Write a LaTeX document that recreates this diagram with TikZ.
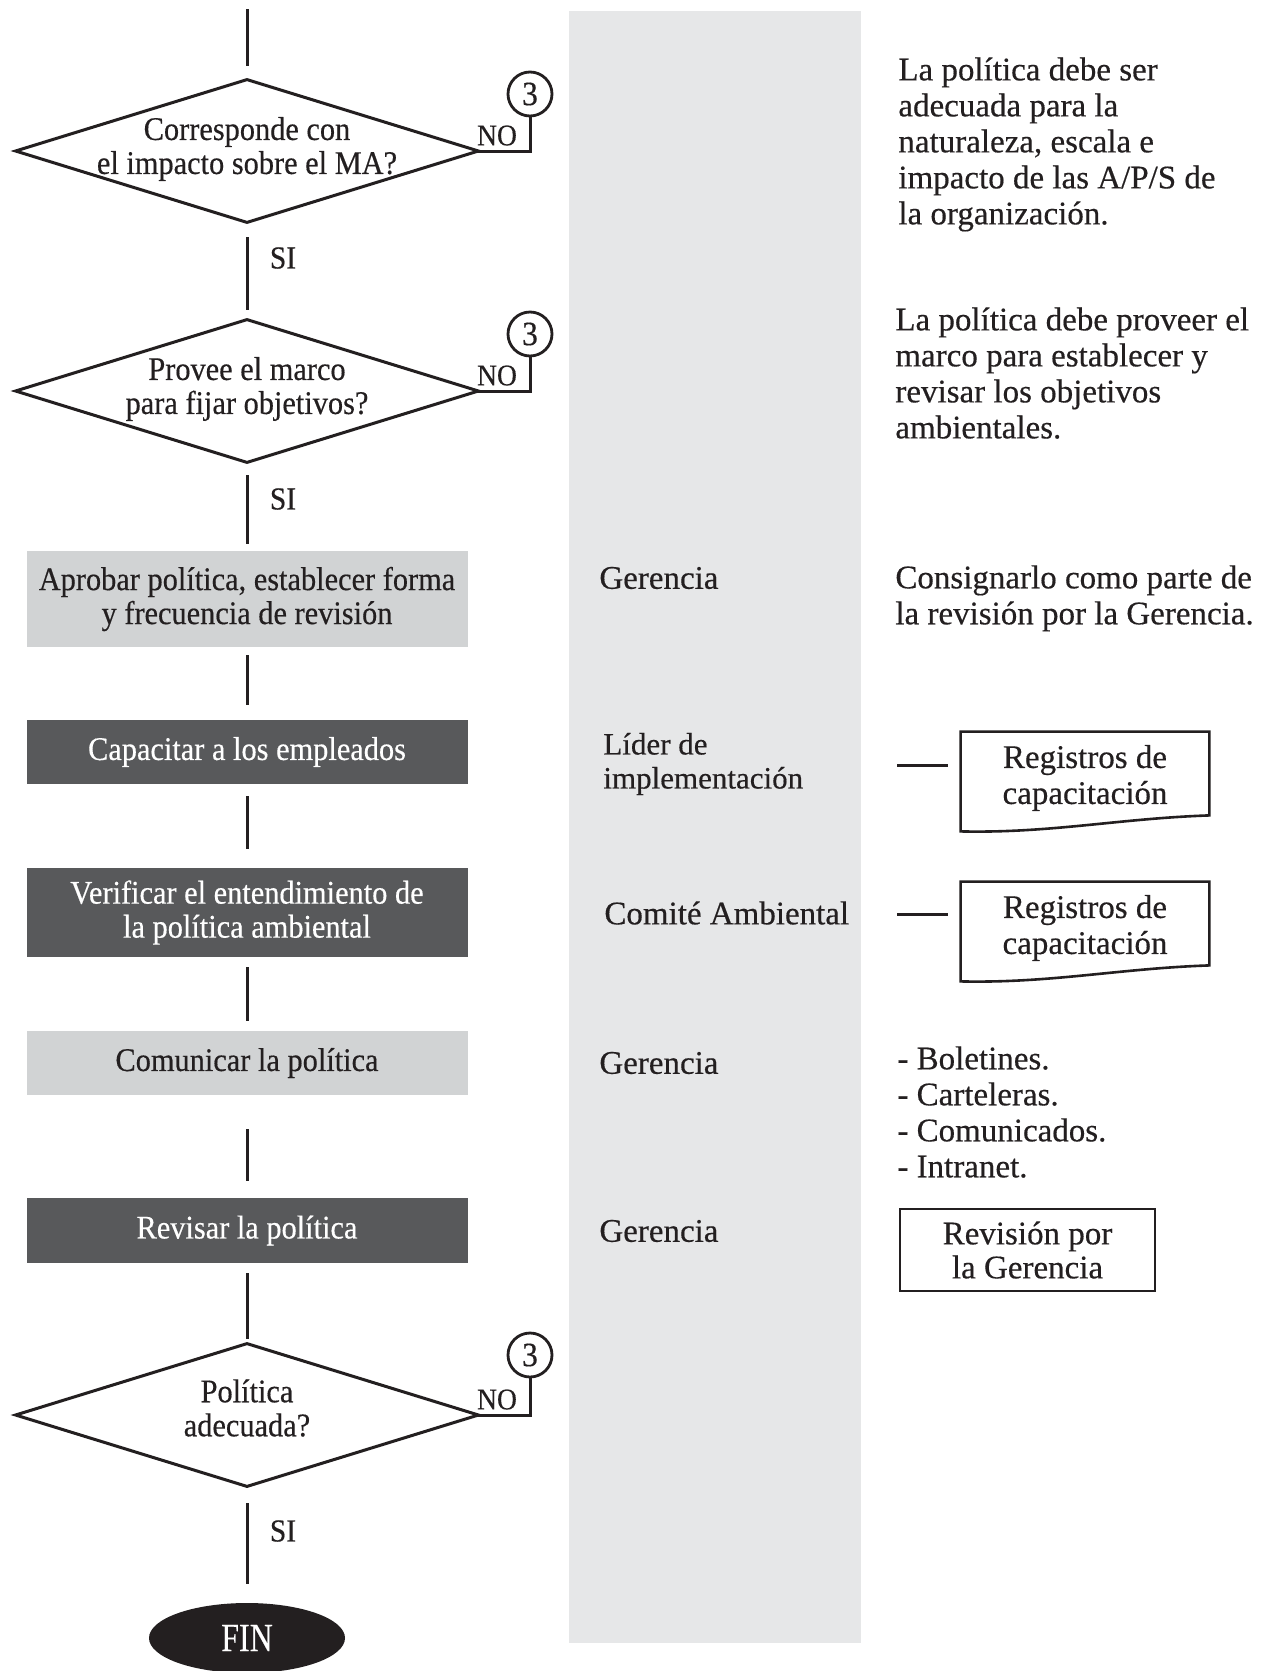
\documentclass[tikz,border=0pt]{standalone}
\usepackage{fontspec}
\setmainfont{Liberation Serif}[FakeBold=0.4]
\newfontfamily\condfont[FakeStretch=0.92,FakeBold=0.4]{Liberation Serif}
\newfontfamily\finfont[FakeStretch=0.8,FakeBold=0.4]{Liberation Serif}
\usetikzlibrary{calc,shapes.geometric}
\definecolor{ink}{HTML}{231F20}
\definecolor{lightbox}{HTML}{D1D3D4}
\definecolor{darkbox}{HTML}{58595B}
\definecolor{colgray}{HTML}{E6E7E8}
\begin{document}
\begin{tikzpicture}[x=0.5pt,y=-0.5pt,
  flowtxt/.style={font=\condfont\fontsize{16.5}{17}\selectfont, align=center, text=ink},
  lightstep/.style={flowtxt, fill=lightbox, minimum width=220.5pt, inner sep=0pt},
  darkstep/.style={flowtxt, fill=darkbox, text=white, minimum width=220.5pt, inner sep=0pt},
  decision/.style={minimum width=231pt, minimum height=71pt, inner sep=0pt},
  decisiontxt/.style={flowtxt, inner sep=0pt},
  diamondline/.style={draw=ink, line width=1.5pt, line join=miter},
  conn/.style={draw=ink, line width=1.5pt},
  refcircle/.style={circle, draw=ink, line width=1.4pt, fill=white, minimum size=22pt, inner sep=0pt, font=\condfont\fontsize{17}{17}\selectfont, text=ink},
  nolabel/.style={font=\condfont\fontsize{15}{15}\selectfont, text=ink, inner sep=0pt, anchor=south},
  silabel/.style={font=\condfont\fontsize{16}{16}\selectfont, text=ink, inner sep=0pt},
  roletxt/.style={font=\fontsize{16.5}{18}\selectfont, text=ink, align=left, anchor=west, inner sep=0pt},
  notetxt/.style={font=\fontsize{16.5}{18}\selectfont, text=ink, align=left, anchor=north west, inner sep=0pt},
  docnode/.style={minimum width=124pt, minimum height=41.5pt, inner sep=0pt},
  doctxt/.style={font=\fontsize{16.5}{18}\selectfont, text=ink, align=center, inner sep=0pt},
  docline/.style={draw=ink, line width=1.3pt, line join=miter},
  revbox/.style={font=\fontsize{16.5}{17}\selectfont, text=ink, align=center, draw=ink, line width=1.3pt, minimum width=127.5pt, minimum height=41pt, inner sep=0pt},
  finnode/.style={ellipse, fill=ink, text=white, font=\finfont\fontsize{20}{20}\selectfont, minimum width=98pt, minimum height=35pt, inner sep=0pt}
]
\useasboundingbox (0,0) rectangle (1268,1671);
\fill[white] (0,0) rectangle (1268,1671);
% gray column
\fill[colgray] (569,11) rectangle (861,1643);

% ---------- flowchart nodes ----------
\coordinate (top) at (247,9);
\node[decision] (d1) at (247,151) {};
\draw[diamondline] (d1.north) -- (d1.east) -- (d1.south) -- (d1.west) -- cycle;
\node[decisiontxt] (d1t) at (247,149) {Corresponde con\\el impacto sobre el MA?};
\node[decision] (d2) at (247,391) {};
\draw[diamondline] (d2.north) -- (d2.east) -- (d2.south) -- (d2.west) -- cycle;
\node[decisiontxt] (d2t) at (247,389) {Provee el marco\\para fijar objetivos?};

\node[lightstep, minimum height=48pt] (b1) at (247,599) {Aprobar política, establecer forma\\y frecuencia de revisión};
\node[darkstep, minimum height=32pt] (b2) at (247,752) {Capacitar a los empleados};
\node[darkstep, minimum height=44.5pt] (b3) at (247,912.5) {Verificar el entendimiento de\\la política ambiental};
\node[lightstep, minimum height=32pt] (b4) at (247,1063) {Comunicar la política};
\node[darkstep, minimum height=32.5pt] (b5) at (247,1230.5) {Revisar la política};

\node[decision] (d3) at (247,1415) {};
\draw[diamondline] (d3.north) -- (d3.east) -- (d3.south) -- (d3.west) -- cycle;
\node[decisiontxt] (d3t) at (247,1408) {Política\\adecuada?};

\node[finnode] (fin) at (247,1638) {FIN};

% reference circles
\node[refcircle] (c1) at (530,94) {3};
\node[refcircle] (c2) at (530,334) {3};
\node[refcircle] (c3) at (530,1355) {3};

% ---------- connectors ----------
\draw[conn, shorten >=7pt] (top) -- (d1.north);
\draw[conn, shorten <=7.5pt, shorten >=5pt] (d1.south) -- (d2.north);
\draw[conn, shorten <=6.5pt, shorten >=3.5pt] (d2.south) -- (b1.north);
\draw[conn, shorten <=4pt, shorten >=7.5pt] (b1.south) -- (b2.north);
\draw[conn, shorten <=6pt, shorten >=9.5pt] (b2.south) -- (b3.north);
\draw[conn, shorten <=5pt, shorten >=5pt] (b3.south) -- (b4.north);
\draw[conn, shorten <=17pt, shorten >=8.5pt] (b4.south) -- (b5.north);
\draw[conn, shorten <=5pt, shorten >=2.5pt] (b5.south) -- (d3.north);
\draw[conn, shorten <=8.5pt, shorten >=9.5pt] (d3.south) -- (fin.north);

\draw[conn] (d1.east) -| (c1.south);
\draw[conn] (d2.east) -| (c2.south);
\draw[conn] (d3.east) -| (c3.south);

% labels NO / SI
\node[nolabel] (no1) at (497,146) {NO};
\node[nolabel] (no2) at (497,386) {NO};
\node[nolabel] (no3) at (497,1410) {NO};
\node[silabel] (si1) at (283,258) {SI};
\node[silabel] (si2) at (283,499) {SI};
\node[silabel] (si3) at (283,1531) {SI};

% ---------- roles ----------
\node[roletxt] (r1) at (599,578) {Gerencia};
\node[roletxt, font=\fontsize{15.5}{17}\selectfont] (r2) at (603,764) {Líder de\\implementación};
\node[roletxt] (r3) at (604,913) {Comité Ambiental};
\node[roletxt] (r4) at (599,1063) {Gerencia};
\node[roletxt] (r5) at (599,1231) {Gerencia};

% ---------- notes ----------
\node[notetxt] (n1) at (898,57) {La política debe ser\\adecuada para la\\naturaleza, escala e\\impacto de las A/P/S de\\la organización.};
\node[notetxt] (n2) at (895,307) {La política debe proveer el\\marco para establecer y\\revisar los objetivos\\ambientales.};
\node[notetxt] (n3) at (895,565) {Consignarlo como parte de\\la revisión por la Gerencia.};
\node[notetxt] (n4) at (897,1046) {- Boletines.\\- Carteleras.\\- Comunicados.\\- Intranet.};

% documents
\node[docnode] (doc1) at (1085,773.5) {};
\draw[docline] (doc1.north west) -- (doc1.north east) -- (doc1.south east)
  .. controls ($(doc1.south east)+(-90,3)$) and ($(doc1.south west)+(90,18)$) .. ($(doc1.south west)+(0,16)$) -- cycle;
\node[doctxt] (doc1t) at (1085,778) {Registros de\\capacitación};
\node[docnode] (doc2) at (1085,923.5) {};
\draw[docline] (doc2.north west) -- (doc2.north east) -- (doc2.south east)
  .. controls ($(doc2.south east)+(-90,3)$) and ($(doc2.south west)+(90,18)$) .. ($(doc2.south west)+(0,16)$) -- cycle;
\node[doctxt] (doc2t) at (1085,928) {Registros de\\capacitación};

\coordinate (t1a) at (897,765);
\coordinate (t1b) at (948,765);
\coordinate (t2a) at (897,914);
\coordinate (t2b) at (948,914);
\draw[conn] (t1a) -- (t1b);
\draw[conn] (t2a) -- (t2b);

\node[revbox] (rev) at (1027.5,1250) {Revisión por\\la Gerencia};
\end{tikzpicture}
\end{document}
